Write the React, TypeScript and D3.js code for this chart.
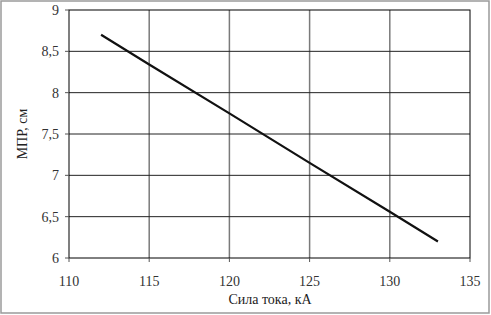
import React from "react";
import * as d3 from "d3";

const currentKA = [112, 115, 120, 125, 130, 133];
const mprCm = [8.7, 8.34, 7.75, 7.15, 6.56, 6.2];
const xTicks = [110, 115, 120, 125, 130, 135];
const yTicks = [6, 6.5, 7, 7.5, 8, 8.5, 9];

export default function App() {
  const W = 491, H = 315;
  const L = 69, R = 470, T = 10, B = 258;
  const x = d3.scaleLinear().domain([110, 135]).range([L, R]);
  const y = d3.scaleLinear().domain([6, 9]).range([B, T]);
  const line = d3.line<number>().x((_, i) => x(currentKA[i])).y((d) => y(d));
  const fmt = (v: number) => String(v).replace(".", ",");
  const ts: React.CSSProperties = { fontFamily: 'serif', fontSize: 14 };
  return (
    <svg width={W} height={H} style={{ position: "absolute", left: 0, top: 0 }}>
      <rect x={0} y={0} width={W} height={H} fill="#fff" />
      <rect x={1} y={1} width={W - 3} height={H - 3} fill="none" stroke="#9a9a9a" strokeWidth={1.5} />
      {xTicks.slice(1, -1).map((t) => (
        <line key={"gx" + t} x1={x(t)} x2={x(t)} y1={T} y2={B} stroke="#7a7a7a" strokeWidth={1.5} />
      ))}
      {yTicks.slice(1, -1).map((t) => (
        <line key={"gy" + t} x1={L} x2={R} y1={y(t)} y2={y(t)} stroke="#222" strokeWidth={1} />
      ))}
      <rect x={L} y={T} width={R - L} height={B - T} fill="none" stroke="#000" strokeWidth={1} />
      {yTicks.map((t) => (
        <g key={"yt" + t}>
          <line x1={L - 4} x2={L} y1={y(t)} y2={y(t)} stroke="#555" />
          <text x={L - 10} y={y(t) + 5} textAnchor="end" style={ts} fill="#333">
            {fmt(t)}
          </text>
        </g>
      ))}
      {xTicks.map((t) => (
        <g key={"xt" + t}>
          <line x1={x(t)} x2={x(t)} y1={B} y2={B + 4} stroke="#555" />
          <text x={x(t)} y={B + 28} textAnchor="middle" style={ts} fill="#333">
            {t}
          </text>
        </g>
      ))}
      <path d={line(mprCm) || ""} fill="none" stroke="#111" strokeWidth={2.2} />
      <text x={270} y={304} textAnchor="middle" style={ts} fill="#222">
        Сила тока, кА
      </text>
      <text
        transform={`translate(27, ${(T + B) / 2}) rotate(-90)`}
        textAnchor="middle"
        style={ts}
        fill="#222"
      >
        МПР, см
      </text>
    </svg>
  );
}
